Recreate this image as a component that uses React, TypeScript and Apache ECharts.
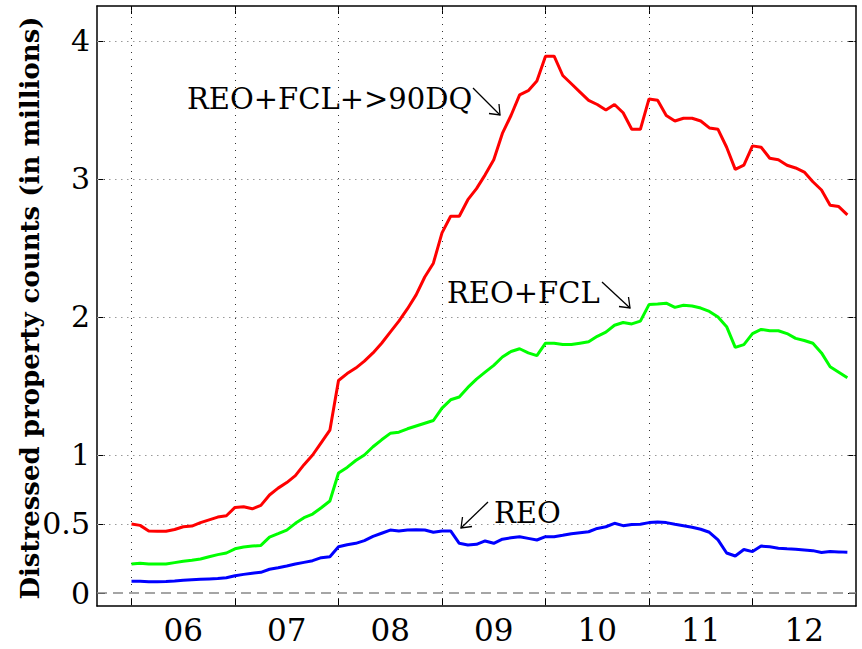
import React, { useEffect, useRef } from "react";
import * as echarts from "echarts";

// Months counted from Jan 2006 (0) to Dec 2012 (83)
const xTickMonths = [0, 12, 24, 36, 48, 60, 72];
const xLabelMonths = [6, 18, 30, 42, 54, 66, 78];
const xLabels = ["06", "07", "08", "09", "10", "11", "12"];
const yTicks = [0, 0.5, 1, 2, 3, 4];
const yLabels = ["0", "0.5", "1", "2", "3", "4"];
const yGridValues = [0.5, 1, 2, 3, 4];

const reoFclDq = [
  0.50, 0.49, 0.45, 0.447, 0.447, 0.46, 0.48, 0.485, 0.51, 0.53, 0.55, 0.56,
  0.62, 0.625, 0.61, 0.635, 0.71, 0.76, 0.80, 0.85, 0.93, 1.0, 1.09, 1.18,
  1.54, 1.59, 1.63, 1.68, 1.74, 1.81, 1.89, 1.97, 2.06, 2.16, 2.29, 2.39,
  2.61, 2.73, 2.73, 2.85, 2.93, 3.03, 3.14, 3.33, 3.46, 3.61, 3.64, 3.71,
  3.89, 3.89, 3.75, 3.69, 3.63, 3.57, 3.54, 3.50, 3.54, 3.48, 3.36, 3.36,
  3.58, 3.57, 3.46, 3.42, 3.44, 3.44, 3.42, 3.37, 3.36, 3.23, 3.07, 3.10,
  3.24, 3.23, 3.15, 3.14, 3.10, 3.08, 3.05, 2.98, 2.92, 2.81, 2.80, 2.74,
];
const reoFcl = [
  0.21, 0.215, 0.21, 0.21, 0.21, 0.22, 0.23, 0.237, 0.246, 0.263, 0.278, 0.29,
  0.32, 0.333, 0.34, 0.345, 0.405, 0.43, 0.456, 0.505, 0.546, 0.572, 0.618, 0.667,
  0.87, 0.91, 0.96, 1.0, 1.06, 1.11, 1.157, 1.165, 1.19, 1.21, 1.23, 1.25,
  1.34, 1.40, 1.42, 1.49, 1.55, 1.60, 1.65, 1.71, 1.75, 1.77, 1.74, 1.72,
  1.81, 1.81, 1.80, 1.80, 1.81, 1.82, 1.86, 1.89, 1.94, 1.96, 1.95, 1.97,
  2.09, 2.094, 2.10, 2.07, 2.085, 2.08, 2.065, 2.04, 2.00, 1.93, 1.78, 1.80,
  1.88, 1.91, 1.90, 1.90, 1.88, 1.845, 1.83, 1.81, 1.74, 1.64, 1.60, 1.56,
];
const reo = [
  0.085, 0.085, 0.082, 0.082, 0.083, 0.087, 0.092, 0.096, 0.099, 0.102, 0.105, 0.11,
  0.125, 0.135, 0.143, 0.15, 0.172, 0.183, 0.196, 0.21, 0.222, 0.234, 0.256, 0.263,
  0.335, 0.35, 0.36, 0.38, 0.41, 0.433, 0.456, 0.45, 0.456, 0.458, 0.457, 0.44,
  0.45, 0.45, 0.36, 0.348, 0.353, 0.377, 0.36, 0.39, 0.40, 0.408, 0.396, 0.384,
  0.408, 0.408, 0.418, 0.43, 0.437, 0.444, 0.468, 0.48, 0.505, 0.488, 0.496, 0.498,
  0.51, 0.514, 0.51, 0.498, 0.488, 0.477, 0.462, 0.44, 0.385, 0.29, 0.268, 0.315,
  0.30, 0.34, 0.335, 0.325, 0.32, 0.317, 0.312, 0.307, 0.293, 0.30, 0.298, 0.295,
];

const FONT = "DejaVu Serif";

export default function App() {
  const ref = useRef<HTMLDivElement>(null);
  useEffect(() => {
    const chart = echarts.init(ref.current!, null, { renderer: "svg" });
    const toPairs = (arr: number[]) => arr.map((v, i) => [i, v]);
    const xMin = -4, xMax = 84, yMin = -0.0942, yMax = 4.2536;
    const lineAxis = { show: true, onZero: false, lineStyle: { color: "#000", width: 1.5 } };
    const tickStyle = { color: "#000", width: 1 };
    const xAxisBase = (pos: string, labels: boolean) => ({
      type: "value",
      position: pos,
      min: xMin,
      max: xMax,
      axisLine: lineAxis,
      axisTick: { show: true, inside: true, length: 8, customValues: xTickMonths, lineStyle: tickStyle },
      axisLabel: labels
        ? {
            show: true,
            customValues: xLabelMonths,
            formatter: (v: number) => xLabels[xLabelMonths.indexOf(v)] ?? "",
            fontFamily: FONT,
            fontSize: 31,
            color: "#000",
            margin: 8,
          }
        : { show: false },
      splitLine: { show: false },
    });
    const yAxisBase = (pos: string, labels: boolean) => ({
      type: "value",
      position: pos,
      min: yMin,
      max: yMax,
      axisLine: lineAxis,
      axisTick: { show: true, inside: true, length: 8, customValues: yTicks, lineStyle: tickStyle },
      axisLabel: labels
        ? {
            show: true,
            customValues: yTicks,
            formatter: (v: number) => yLabels[yTicks.indexOf(v)] ?? "",
            fontFamily: FONT,
            fontSize: 30,
            color: "#000",
            margin: 7,
          }
        : { show: false },
      splitLine: { show: false },
    });

    const gridMarks = [
      ...xTickMonths.map((v) => ({ xAxis: v, lineStyle: { color: "#333", type: [1, 6], width: 1 } })),
      ...yGridValues.map((v) => ({ yAxis: v, lineStyle: { color: "#999", type: [1.5, 4.5], width: 1 } })),
      { yAxis: 0, lineStyle: { color: "#888", type: [10, 6], width: 1.5 } },
    ];

    const arrow = (x1: number, y1: number, x2: number, y2: number, head: number[][]) => [
      { type: "line", shape: { x1, y1, x2, y2 }, style: { stroke: "#000", lineWidth: 1.3 }, z: 10 },
      { type: "polyline", shape: { points: head }, style: { stroke: "#000", lineWidth: 1.3, fill: null }, z: 10 },
    ];
    const label = (text: string, x: number, y: number) => ({
      type: "text",
      x,
      y,
      z: 10,
      style: { text, fontFamily: FONT, fontSize: 29, fill: "#000", align: "left", verticalAlign: "middle" },
    });

    chart.setOption({
      animation: false,
      backgroundColor: "#fff",
      grid: { left: 97, top: 6, width: 759, height: 600, containLabel: false },
      xAxis: [xAxisBase("bottom", true), xAxisBase("top", false)],
      yAxis: [yAxisBase("left", true), yAxisBase("right", false)],
      series: [
        {
          type: "line",
          name: "REO+FCL+>90DQ",
          data: toPairs(reoFclDq),
          symbol: "none",
          z: 3,
          lineStyle: { color: "#ff0000", width: 3 },
          markLine: {
            silent: true,
            z: 1,
            symbol: ["none", "none"],
            label: { show: false },
            animation: false,
            data: gridMarks,
          },
        },
        { type: "line", name: "REO+FCL", data: toPairs(reoFcl), symbol: "none", z: 3, lineStyle: { color: "#00ff00", width: 3 } },
        { type: "line", name: "REO", data: toPairs(reo), symbol: "none", z: 3, lineStyle: { color: "#0000ff", width: 3 } },
      ],
      graphic: [
        {
          type: "text",
          x: 30,
          y: 308,
          rotation: Math.PI / 2,
          style: {
            text: "Distressed property counts (in millions)",
            fontFamily: FONT,
            fontSize: 26,
            fontWeight: "bold",
            fill: "#000",
            align: "center",
            verticalAlign: "middle",
          },
        },
        label("REO+FCL+>90DQ", 187, 99),
        ...arrow(473, 88, 500, 115, [[489, 113.5], [500, 115], [499, 104]]),
        label("REO+FCL", 447, 293),
        ...arrow(602, 282, 630, 308, [[619, 306.5], [630, 308], [628.5, 297]]),
        ...arrow(488, 502, 461, 528, [[462.5, 517], [461, 528], [472, 526.5]]),
        label("REO", 494, 513),
      ],
    });
    return () => chart.dispose();
  }, []);
  return <div ref={ref} style={{ position: "fixed", left: 0, top: 0, width: 862, height: 649 }} />;
}
